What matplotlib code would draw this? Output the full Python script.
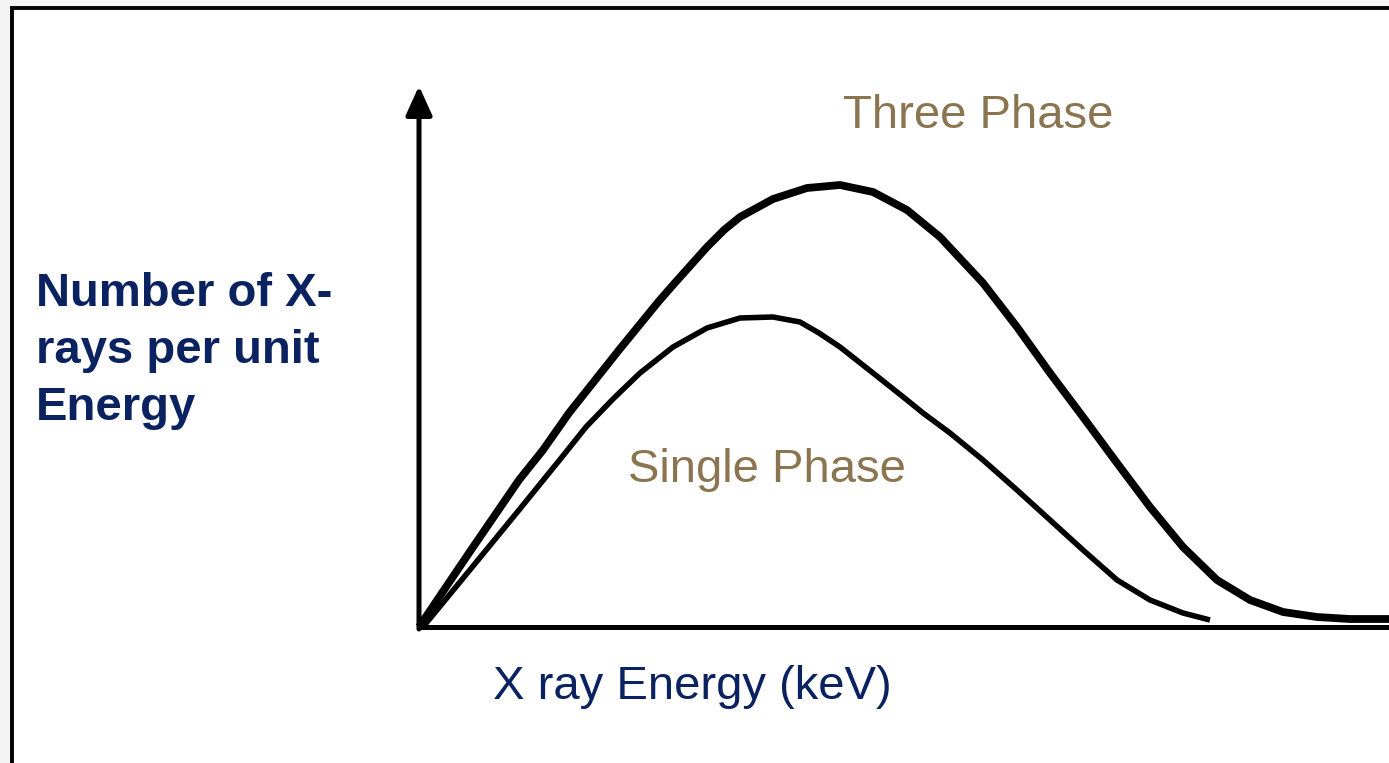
import matplotlib.pyplot as plt
from matplotlib.patches import Rectangle

plt.rcParams["font.family"] = ["Liberation Sans", "DejaVu Sans"]

# spectrum shapes (arbitrary units)
three_energy = [0, 5.0, 10.0, 12.4, 15.0, 20.0, 24.0, 25.4, 28.8, 30.5, 32.1, 35.4, 38.8,
                42.1, 45.4, 48.8, 52.1, 56.4, 59.8, 63.1, 66.4, 69.8, 73.1,
                76.4, 79.8, 83.1, 86.4, 89.8, 93.1, 97.0]
three_counts = [0, 7.4, 14.7, 17.7, 21.4, 27.7, 32.6, 34.2, 38.0, 39.7, 41.0, 42.8, 43.9,
                44.2, 43.5, 41.7, 39.0, 34.4, 30.0, 25.4, 21.0, 16.4, 12.0,
                8.0, 4.7, 2.7, 1.5, 1.0, 0.8, 0.8]

single_energy = [0.4, 5.0, 10.0, 14.3, 16.7, 19.5, 22.1, 25.4, 28.8, 32.1, 35.4,
                 38.1, 40.0, 42.1, 45.4, 48.8, 50.4, 53.1, 56.4, 59.8, 63.1,
                 66.4, 69.8, 73.1, 76.4, 79.1]
single_counts = [0, 5.6, 11.7, 17.0, 20.0, 22.9, 25.4, 28.0, 29.9, 30.9, 31.0,
                 30.5, 29.4, 28.0, 25.4, 22.7, 21.4, 19.4, 16.7, 13.7, 10.7,
                 7.7, 4.7, 2.7, 1.4, 0.7]

navy = "#0b2260"
brown = "#8b7550"

fig = plt.figure(figsize=(13.89, 7.63), dpi=100)
fig.patch.set_facecolor("#f4f4f4")
fig.patches.append(Rectangle((12 / 1389, -0.1), 1.2, 1.1 - 8 / 763,
                             transform=fig.transFigure, facecolor="white",
                             edgecolor="black", linewidth=2.8, zorder=-5))

ax = fig.add_axes([0, 0, 1, 1])
ax.set_axis_off()
ax.patch.set_alpha(0)
ax.set_xlim(-41.9, 97.0)
ax.set_ylim(-13.6, 62.7)

# axes with arrow on the vertical one
ax.plot([0, 97.5], [0, 0], color="black", lw=3.6, solid_capstyle="butt")
ax.annotate("", xy=(0, 54.1), xytext=(0, -0.2),
            arrowprops=dict(arrowstyle="-|>,head_length=1.1,head_width=0.5",
                            mutation_scale=16, color="black", lw=3.6,
                            shrinkA=0, shrinkB=0))

ax.plot(three_energy, three_counts, color="black", lw=5.6,
        solid_capstyle="butt", solid_joinstyle="round")
ax.plot(single_energy, single_counts, color="black", lw=4.0,
        solid_capstyle="butt", solid_joinstyle="round")

ax.text(42.4, 51.1, "Three Phase", color=brown, fontsize=34, va="center", ha="left")
ax.text(20.9, 15.7, "Single Phase", color=brown, fontsize=34, va="center", ha="left")
ax.text(7.4, -6.0, "X ray Energy (keV)", color=navy, fontsize=34, va="center", ha="left")
ax.text(-38.3, 27.6, "Number of X-\nrays per unit\nEnergy", color=navy, fontsize=34,
        fontweight="bold", va="center", ha="left", linespacing=1.37)

fig.savefig("out.png", dpi=100, facecolor=fig.get_facecolor())
